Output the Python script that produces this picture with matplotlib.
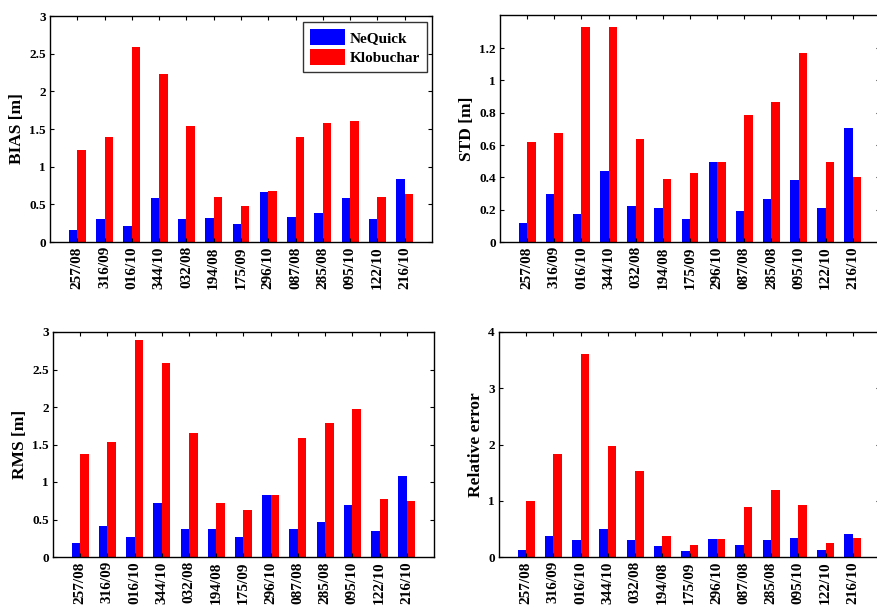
import matplotlib
matplotlib.use("Agg")
import matplotlib.pyplot as plt
import numpy as np
from matplotlib.ticker import FuncFormatter

plt.rcParams['font.family'] = ['Liberation Serif', 'DejaVu Serif']
plt.rcParams['font.weight'] = 'bold'

categories = ["257/08", "316/09", "016/10", "344/10", "032/08", "194/08", "175/09",
              "296/10", "087/08", "285/08", "095/10", "122/10", "216/10"]

bias_nequick = [0.155, 0.30, 0.21, 0.58, 0.31, 0.32, 0.235, 0.667, 0.33, 0.39, 0.585, 0.30, 0.83]
bias_klobuchar = [1.22, 1.39, 2.59, 2.23, 1.54, 0.60, 0.475, 0.68, 1.39, 1.58, 1.60, 0.60, 0.64]

std_nequick = [0.12, 0.294, 0.172, 0.44, 0.22, 0.213, 0.145, 0.497, 0.193, 0.265, 0.383, 0.211, 0.704]
std_klobuchar = [0.617, 0.677, 1.33, 1.33, 0.635, 0.393, 0.424, 0.497, 0.783, 0.865, 1.17, 0.497, 0.404]

rms_nequick = [0.19, 0.41, 0.27, 0.72, 0.38, 0.38, 0.27, 0.83, 0.38, 0.47, 0.70, 0.35, 1.08]
rms_klobuchar = [1.37, 1.54, 2.90, 2.59, 1.66, 0.72, 0.63, 0.83, 1.59, 1.79, 1.98, 0.77, 0.75]

rel_nequick = [0.12, 0.38, 0.30, 0.50, 0.31, 0.19, 0.11, 0.32, 0.21, 0.30, 0.33, 0.12, 0.41]
rel_klobuchar = [0.99, 1.83, 3.61, 1.98, 1.53, 0.37, 0.22, 0.32, 0.89, 1.19, 0.92, 0.25, 0.33]

series_names = ["NeQuick", "Klobuchar"]
colors = ["#0000ff", "#ff0000"]

W, H = 877, 611
fig = plt.figure(figsize=(W / 100, H / 100), dpi=100)

def rect(l, r, t, b):
    return [l / W, 1 - b / H, (r - l) / W, (b - t) / H]

panels = [
    (rect(50, 432, 16, 242), bias_nequick, bias_klobuchar, "BIAS [m]", (0, 3), np.arange(0, 3.01, 0.5), True),
    (rect(500, 880, 15, 242), std_nequick, std_klobuchar, "STD [m]", (0, 1.405), np.arange(0, 1.21, 0.2), False),
    (rect(53, 434, 332, 557), rms_nequick, rms_klobuchar, "RMS [m]", (0, 3), np.arange(0, 3.01, 0.5), False),
    (rect(499, 880, 332, 557), rel_nequick, rel_klobuchar, "Relative error", (0, 4), np.arange(0, 4.01, 1), False),
]

x = np.arange(1, len(categories) + 1)
bw = 0.31
fmt = FuncFormatter(lambda v, p: ("%g" % round(v, 2)))

for pos, a, b, ylabel, ylim, yticks, show_legend in panels:
    ax = fig.add_axes(pos)
    ax.bar(x - bw / 2, a, width=bw, color=colors[0], label=series_names[0], linewidth=0)
    ax.bar(x + bw / 2, b, width=bw, color=colors[1], label=series_names[1], linewidth=0)
    ax.set_xlim(0, 14)
    ax.set_ylim(*ylim)
    ax.set_xticks(x)
    ax.set_xticklabels(categories, rotation=90, fontsize=11, fontweight='bold')
    ax.set_yticks(yticks)
    ax.yaxis.set_major_formatter(fmt)
    for lab in ax.get_yticklabels():
        lab.set_fontsize(9.5)
        lab.set_fontweight('bold')
    ax.tick_params(direction='in', top=True, right=True, length=3, width=0.8, pad=3)
    ax.set_ylabel(ylabel, fontsize=12.5, fontweight='bold', labelpad=3)
    for s in ax.spines.values():
        s.set_linewidth(1.0)
    if show_legend:
        leg = ax.legend(loc='upper right', bbox_to_anchor=(1 - 5 / 382, 1 - 6 / 226),
                        fontsize=11, frameon=True, fancybox=False, edgecolor='black',
                        handlelength=2.3, handleheight=1.2, handletextpad=0.3,
                        borderpad=0.45, labelspacing=0.3, borderaxespad=0)
        leg.get_frame().set_linewidth(1.0)
        for t in leg.get_texts():
            t.set_fontweight('bold')

fig.savefig("out.png", dpi=100)
